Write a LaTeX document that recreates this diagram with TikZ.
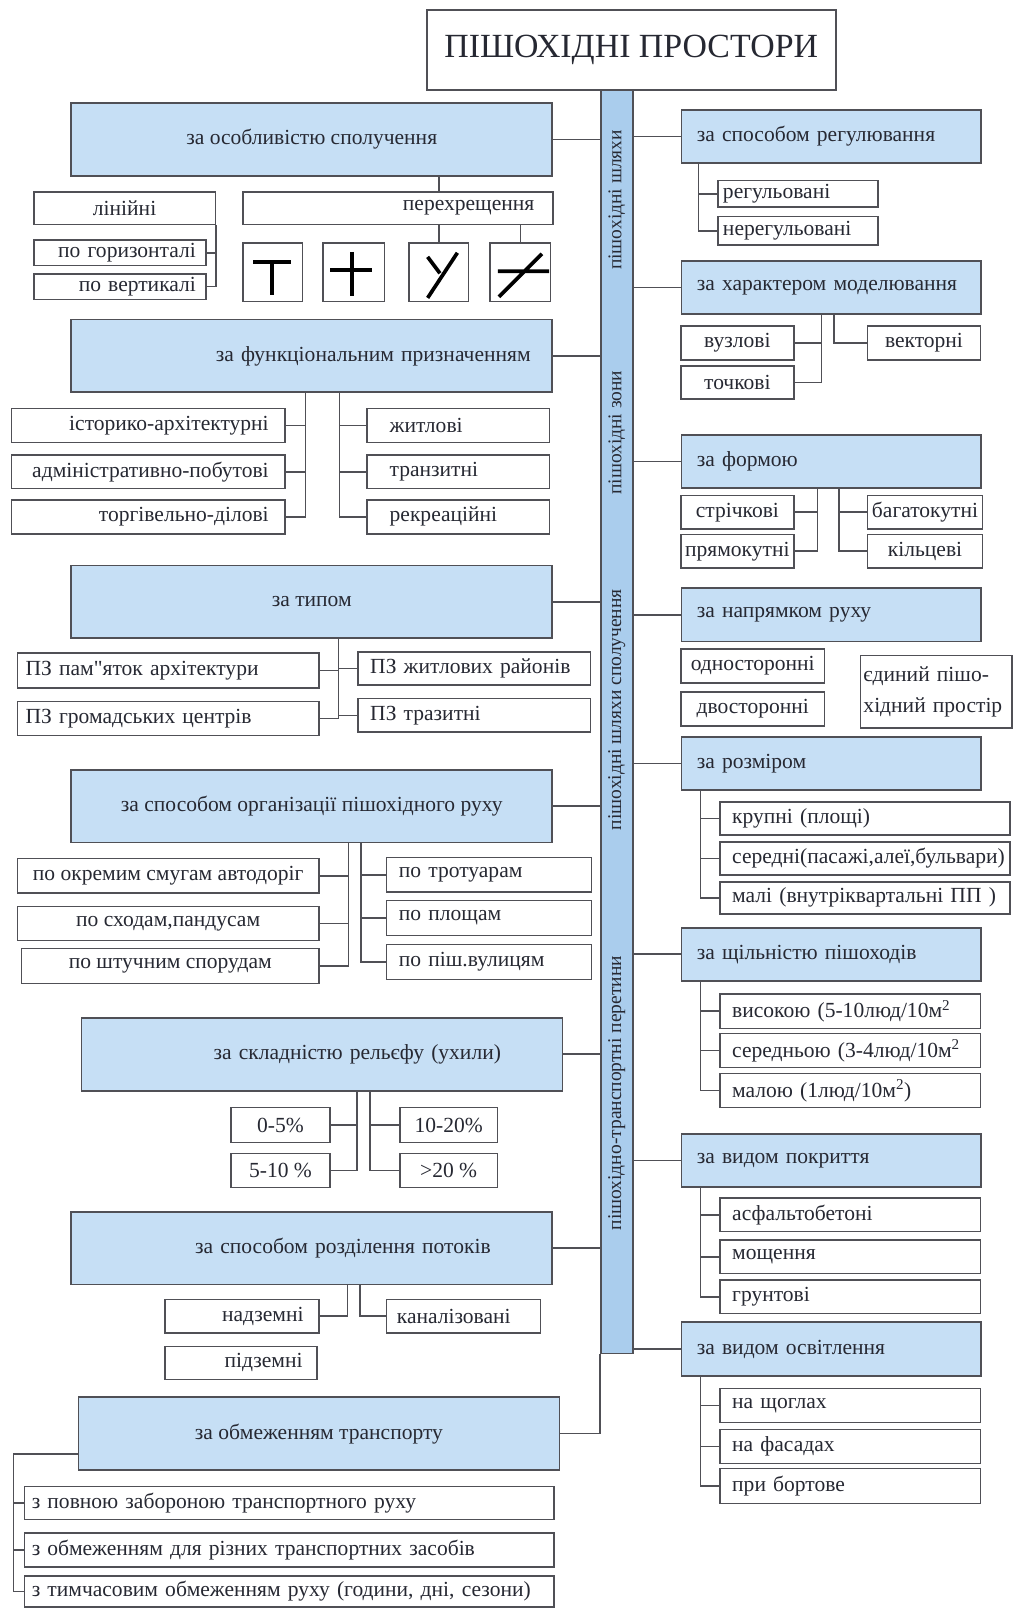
\documentclass[tikz,border=0pt]{standalone}
\usepackage{fontspec}
\setmainfont{Liberation Serif}
\usetikzlibrary{positioning,calc}
\definecolor{catblue}{RGB}{198,223,245}
\definecolor{spineblue}{RGB}{170,205,237}
\definecolor{edge}{RGB}{80,80,86}
\definecolor{ink}{RGB}{38,40,50}

\begin{document}
\begin{tikzpicture}[x=1pt,y=-1pt,
  txt/.style={font=\fontsize{21}{24}\selectfont,text=ink},
  cat/.style={txt,draw=edge,fill=catblue,line width=1.8pt,minimum width=469pt,minimum height=71pt,inner sep=0pt},
  catr/.style={cat,minimum height=52pt,minimum width=0pt,text width=262pt,inner xsep=15pt,align=left},
  item/.style={txt,draw=edge,fill=white,line width=1.5pt,inner sep=0pt},
  lft/.style={align=left},
  rgt/.style={align=right},
  sym/.style={line width=3.6pt,draw=black},
  link/.style={draw=edge,line width=1.5pt}]
\useasboundingbox (0,0) rectangle (989,1568);
\fill[white] (0,0) rectangle (989,1568);

\node[txt,draw=edge,line width=1.8pt,fill=white,minimum width=399pt,minimum height=78pt,font=\fontsize{33}{36}\selectfont] (title) at (615.5,49) {ПІШОХІДНІ ПРОСТОРИ};
\node[draw=edge,fill=spineblue,line width=1.5pt,minimum width=31pt,minimum height=1232pt,inner sep=0pt] (spine) at (601.5,704) {};
\node[txt,rotate=90,font=\fontsize{19}{21}\selectfont] (zn1) at (601.5,195) {пішохідні шляхи};
\node[txt,rotate=90,font=\fontsize{19}{21}\selectfont] (zn2) at (601.5,422) {пішохідні зони};
\node[txt,rotate=90,font=\fontsize{19}{21}\selectfont] (zn3) at (601.5,692) {пішохідні шляхи сполучення};
\node[txt,rotate=90,font=\fontsize{19}{21}\selectfont] (zn4) at (601.5,1066) {пішохідно-транспортні перетини};

\node[cat] (spol) at (304,136) {за особливістю сполучення};
\node[item,minimum width=177pt,minimum height=32pt] (lin) at (121.5,203) {лінійні};
\node[item,rgt,text width=266pt,inner xsep=18pt,minimum height=32pt] (pere) at (388,203) {перехрещення};
\node[item,rgt,text width=148pt,inner xsep=10pt,minimum height=25pt] (hor) at (117,246.5) {по горизонталі};
\node[item,rgt,text width=148pt,inner xsep=10pt,minimum height=25pt] (vert) at (117,279.5) {по вертикалі};
\node[item,minimum width=58pt,minimum height=57pt] (sT) at (266,265.5) {};
\node[item,minimum width=60pt,minimum height=57pt] (sX) at (345,265.5) {};
\node[item,minimum width=58pt,minimum height=57pt] (sY) at (428,265.5) {};
\node[item,minimum width=59pt,minimum height=57pt] (sN) at (507.5,265.5) {};

\node[cat,text width=427pt,inner xsep=21pt,rgt] (funk) at (304,347) {за функціональним призначенням};
\node[item,rgt,text width=235pt,inner xsep=16pt,minimum height=33pt] (ist) at (144.5,415) {історико-архітектурні};
\node[item,rgt,text width=235pt,inner xsep=16pt,minimum height=33pt] (adm) at (144.5,460) {адміністративно-побутові};
\node[item,rgt,text width=235pt,inner xsep=16pt,minimum height=33pt] (torg) at (144.5,504) {торгівельно-ділові};
\node[item,lft,text width=134pt,inner xsep=22pt,minimum height=33pt] (zhyt) at (447,415) {житлові};
\node[item,lft,text width=134pt,inner xsep=22pt,minimum height=33pt] (tranz) at (447,460) {транзитні};
\node[item,lft,text width=134pt,inner xsep=22pt,minimum height=33pt] (rekr) at (447,504) {рекреаційні};

\node[cat] (typ) at (304,587) {за типом};
\node[item,lft,text width=278pt,inner xsep=8pt,minimum height=34pt] (pam) at (164,654) {ПЗ пам\textquotedbl яток архітектури};
\node[item,lft,text width=278pt,inner xsep=8pt,minimum height=33pt] (grom) at (164,700.5) {ПЗ громадських центрів};
\node[item,lft,text width=203pt,inner xsep=12pt,minimum height=32pt] (zhr) at (462.5,652) {ПЗ житлових районів};
\node[item,lft,text width=203pt,inner xsep=12pt,minimum height=33pt] (ptr) at (462.5,697.5) {ПЗ тразитні};

\node[cat] (org) at (304,786) {за способом організації пішохідного руху};
\node[item,minimum width=294pt,minimum height=34pt] (okr) at (164,854) {по окремим смугам автодоріг};
\node[item,minimum width=294pt,minimum height=33pt] (sxod) at (164,900.5) {по сходам,пандусам};
\node[item,minimum width=290pt,minimum height=34pt] (shtu) at (166,942) {по штучним спорудам};
\node[item,lft,text width=176pt,inner xsep=12pt,minimum height=34pt] (trot) at (477,853) {по тротуарам};
\node[item,lft,text width=176pt,inner xsep=12pt,minimum height=34pt] (plo) at (477,895) {по площам};
\node[item,lft,text width=176pt,inner xsep=12pt,minimum height=34pt] (vul) at (477,938) {по піш.вулицям};

\node[cat,text width=349pt,inner xsep=60pt,rgt] (rel) at (314,1028) {за складністю рельєфу (ухили)};
\node[item,minimum width=97pt,minimum height=34pt] (u1) at (273.5,1097) {0-5\%};
\node[item,minimum width=97pt,minimum height=33pt] (u2) at (273.5,1141.5) {5-10 \%};
\node[item,minimum width=95pt,minimum height=34pt] (u3) at (437.5,1097) {10-20\%};
\node[item,minimum width=95pt,minimum height=33pt] (u4) at (437.5,1141.5) {>20 \%};

\node[cat,text width=349pt,inner xsep=60pt,rgt] (rozd) at (304,1217) {за способом розділення потоків};
\node[item,rgt,text width=120pt,inner xsep=15pt,minimum height=33pt] (nad) at (236,1283.5) {надземні};
\node[item,rgt,text width=120pt,inner xsep=14pt,minimum height=32pt] (pid) at (235,1329) {підземні};
\node[item,lft,text width=130pt,inner xsep=10pt,minimum height=33pt] (kan) at (452,1283.5) {каналізовані};

\node[cat] (obm) at (311,1398) {за обмеженням транспорту};
\node[item,lft,text width=502pt,inner xsep=7pt,minimum height=32pt] (ob1) at (282,1465.5) {з повною забороною транспортного руху};
\node[item,lft,text width=502pt,inner xsep=7pt,minimum height=33pt] (ob2) at (282,1511.5) {з обмеженням для різних транспортних засобів};
\node[item,lft,text width=502pt,inner xsep=7pt,minimum height=30pt] (ob3) at (282,1552) {з тимчасовим обмеженням руху (години, дні, сезони)};

\node[catr] (reg) at (810.5,133) {за способом регулювання};
\node[item,lft,text width=146pt,inner xsep=5pt,minimum height=26pt] (rg1) at (778,189) {регульовані};
\node[item,lft,text width=146pt,inner xsep=5pt,minimum height=28pt] (rg2) at (778,225) {нерегульовані};

\node[catr] (mod) at (810.5,280.5) {за характером моделювання};
\node[item,minimum width=110pt,minimum height=33pt] (vuz) at (719,334.5) {вузлові};
\node[item,minimum width=110pt,minimum height=32pt] (toch) at (719,373) {точкові};
\node[item,minimum width=110pt,minimum height=33pt] (vek) at (901,334.5) {векторні};

\node[catr] (form) at (810.5,450) {за формою};
\node[item,minimum width=110pt,minimum height=33pt] (str) at (719,499.5) {стрічкові};
\node[item,minimum width=110pt,minimum height=33pt] (pry) at (719,537.5) {прямокутні};
\node[item,minimum width=112pt,minimum height=33pt] (bag) at (902,499.5) {багатокутні};
\node[item,minimum width=112pt,minimum height=33pt] (kil) at (902,537.5) {кільцеві};

\node[catr] (napr) at (810.5,599.5) {за напрямком руху};
\node[item,minimum width=140pt,minimum height=33pt] (odn) at (734,649.5) {односторонні};
\node[item,minimum width=140pt,minimum height=33pt] (dvo) at (734,691.5) {двосторонні};
\node[item,lft,text width=142pt,inner xsep=3pt,minimum height=71pt,font=\fontsize{21}{30}\selectfont] (yed) at (913,674.5) {єдиний пішо-\\хідний простір};

\node[catr] (rozm) at (810.5,744.5) {за розміром};
\node[item,lft,text width=259pt,inner xsep=12pt,minimum height=32pt] (kr) at (843.5,798) {крупні (площі)};
\node[item,lft,text width=259pt,inner xsep=12pt,minimum height=32pt] (sr) at (843.5,837) {середні(пасажі,алеї,бульвари)};
\node[item,lft,text width=259pt,inner xsep=12pt,minimum height=31pt] (ml) at (843.5,875.5) {малі (внутріквартальні ПП )};

\node[catr] (shch) at (810.5,930.5) {за щільністю пішоходів};
\node[item,lft,text width=230pt,inner xsep=12pt,minimum height=34pt] (vy) at (829,986) {високою (5-10люд/10м\textsuperscript{2}};
\node[item,lft,text width=230pt,inner xsep=12pt,minimum height=33pt] (se) at (829,1024.5) {середньою (3-4люд/10м\textsuperscript{2}};
\node[item,lft,text width=230pt,inner xsep=12pt,minimum height=33pt] (ma) at (829,1063.5) {малою (1люд/10м\textsuperscript{2})};

\node[catr] (pokr) at (810.5,1131.5) {за видом покриття};
\node[item,lft,text width=230pt,inner xsep=12pt,minimum height=33pt] (as) at (829,1184.5) {асфальтобетоні};
\node[item,lft,text width=230pt,inner xsep=12pt,minimum height=33pt] (mo) at (829,1225.5) {мощення};
\node[item,lft,text width=230pt,inner xsep=12pt,minimum height=33pt] (gr) at (829,1264.5) {грунтові};

\node[catr] (osv) at (810.5,1315.5) {за видом освітлення};
\node[item,lft,text width=230pt,inner xsep=12pt,minimum height=33pt] (sh) at (829,1370.5) {на щоглах};
\node[item,lft,text width=230pt,inner xsep=12pt,minimum height=33pt] (fa) at (829,1410.5) {на фасадах};
\node[item,lft,text width=230pt,inner xsep=12pt,minimum height=34pt] (bo) at (829,1449) {при бортове};

\draw[sym] ($(sT)+(-19,-10)$) -- ++(37,0) ($(sT)+(-1,-10)$) -- ++(0,32);
\draw[sym] ($(sX)+(-23,-2)$) -- ++(41,0) ($(sX)+(-2,-20)$) -- ++(0,43);
\draw[sym] ($(sY)+(-11,-15)$) -- ++(12,16) ($(sY)+(18,-19)$) -- ($(sY)+(-11,25)$);
\draw[sym] ($(sN)+(-22,-1)$) -- ++(50,0) ($(sN)+(21,-18)$) -- ($(sN)+(-21,24)$);

\coordinate (kF) at (298,0);
\coordinate (kFr) at (331,0);
\coordinate (kT) at (330,0);
\coordinate (kO) at (340,0);
\coordinate (kOr) at (352,0);
\coordinate (kR) at (348,0);
\coordinate (kRr) at (361,0);
\coordinate (kD) at (339,0);
\coordinate (kDr) at (351,0);
\coordinate (kB) at (13,0);
\coordinate (kRg) at (681,0);
\coordinate (kMl) at (801,0);
\coordinate (kMr) at (813,0);
\coordinate (kPl) at (797,0);
\coordinate (kPr) at (818,0);
\coordinate (kZ) at (683,0);

\draw[link] (spol.east) -- (spol.east -| spine.west);
\draw[link] (funk.east) -- (funk.east -| spine.west);
\draw[link] (typ.east) -- (typ.east -| spine.west);
\draw[link] (org.east) -- (org.east -| spine.west);
\draw[link] (rel.east) -- (rel.east -| spine.west);
\draw[link] (rozd.east) -- (rozd.east -| spine.west);
\draw[link] (obm.east) -| (spine.south west);
\draw[link] (spine.east |- reg.west) -- (reg.west);
\draw[link] (spine.east |- mod.west) -- (mod.west);
\draw[link] (spine.east |- form.west) -- (form.west);
\draw[link] (spine.east |- napr.west) -- (napr.west);
\draw[link] (spine.east |- rozm.west) -- (rozm.west);
\draw[link] (spine.east |- shch.west) -- (shch.west);
\draw[link] (spine.east |- pokr.west) -- (pokr.west);
\draw[link] (spine.east |- osv.west) -- (osv.west);

\draw[link] (spol.south -| sY.north) -- (pere.north -| sY.north);
\draw[link] (pere.south -| sY.north) -- (sY.north);
\draw[link] (pere.south -| sN.north) -- (sN.north);
\draw[link] (lin.south east) |- (vert.east);
\draw[link] (lin.south east |- hor.east) -- (hor.east);

\draw[link] (funk.south -| kF) |- (torg.east);
\draw[link] (kF |- ist.east) -- (ist.east);
\draw[link] (kF |- adm.east) -- (adm.east);
\draw[link] (funk.south -| kFr) |- (rekr.west);
\draw[link] (kFr |- zhyt.west) -- (zhyt.west);
\draw[link] (kFr |- tranz.west) -- (tranz.west);

\draw[link] (typ.south -| kT) |- (grom.east);
\draw[link] (kT |- pam.east) -- (pam.east);
\draw[link] (kT |- zhr.west) -- (zhr.west);
\draw[link] (kT |- ptr.west) -- (ptr.west);

\draw[link] (org.south -| kO) |- (shtu.east);
\draw[link] (kO |- okr.east) -- (okr.east);
\draw[link] (kO |- sxod.east) -- (sxod.east);
\draw[link] (org.south -| kOr) |- (vul.west);
\draw[link] (kOr |- trot.west) -- (trot.west);
\draw[link] (kOr |- plo.west) -- (plo.west);

\draw[link] (rel.south -| kR) |- (u2.east);
\draw[link] (kR |- u1.east) -- (u1.east);
\draw[link] (rel.south -| kRr) |- (u4.west);
\draw[link] (kRr |- u3.west) -- (u3.west);

\draw[link] (rozd.south -| kD) |- (nad.east);
\draw[link] (rozd.south -| kDr) |- (kan.west);

\draw[link] ([yshift=-20pt]obm.west) -| (kB |- ob3.west) -- (ob3.west);
\draw[link] (kB |- ob1.west) -- (ob1.west);
\draw[link] (kB |- ob2.west) -- (ob2.west);

\draw[link] (reg.south -| kRg) |- (rg2.west);
\draw[link] (kRg |- rg1.west) -- (rg1.west);

\draw[link] (mod.south -| kMl) |- (toch.east);
\draw[link] (kMl |- vuz.east) -- (vuz.east);
\draw[link] (mod.south -| kMr) |- (vek.west);

\draw[link] (form.south -| kPl) |- (pry.east);
\draw[link] (kPl |- str.east) -- (str.east);
\draw[link] (form.south -| kPr) |- (kil.west);
\draw[link] (kPr |- bag.west) -- (bag.west);

\draw[link] (rozm.south -| kZ) |- (ml.west);
\draw[link] (kZ |- kr.west) -- (kr.west);
\draw[link] (kZ |- sr.west) -- (sr.west);

\draw[link] (shch.south -| kZ) |- (ma.west);
\draw[link] (kZ |- vy.west) -- (vy.west);
\draw[link] (kZ |- se.west) -- (se.west);

\draw[link] (pokr.south -| kZ) |- (gr.west);
\draw[link] (kZ |- as.west) -- (as.west);
\draw[link] (kZ |- mo.west) -- (mo.west);

\draw[link] (osv.south -| kZ) |- (bo.west);
\draw[link] (kZ |- sh.west) -- (sh.west);
\draw[link] (kZ |- fa.west) -- (fa.west);
\end{tikzpicture}
\end{document}
